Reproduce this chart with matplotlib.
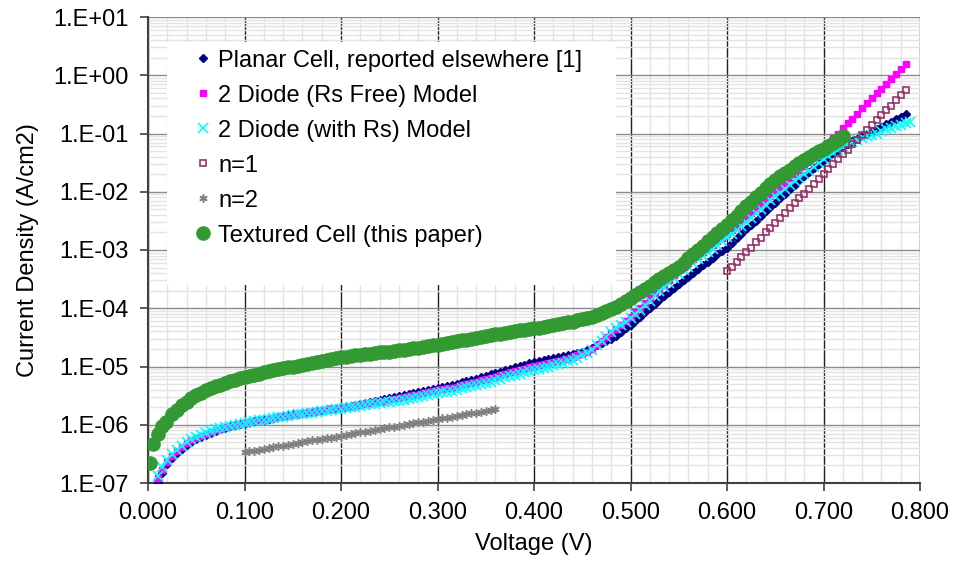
import numpy as np
import matplotlib.pyplot as plt
from matplotlib.patches import Rectangle
from matplotlib.ticker import FixedLocator, FuncFormatter, LogLocator, MultipleLocator

plt.rcParams['font.family'] = ['Liberation Sans', 'DejaVu Sans']

dv = 0.005

v0_planar = 0.010
j_planar = [1.05e-7, 1.5e-7, 2.1e-7, 2.7e-7, 3.3e-7, 3.9e-7, 4.5e-7, 5.0e-7, 5.6e-7, 6.2e-7,
            6.8e-7, 7.3e-7, 7.9e-7, 8.4e-7, 8.9e-7, 9.4e-7, 9.8e-7, 1.03e-6, 1.07e-6, 1.11e-6,
            1.15e-6, 1.19e-6, 1.23e-6, 1.27e-6, 1.31e-6, 1.36e-6, 1.4e-6, 1.45e-6, 1.5e-6, 1.55e-6,
            1.6e-6, 1.63e-6, 1.67e-6, 1.73e-6, 1.8e-6, 1.83e-6, 1.87e-6, 1.93e-6, 2.0e-6, 2.05e-6,
            2.1e-6, 2.2e-6, 2.3e-6, 2.37e-6, 2.45e-6, 2.57e-6, 2.7e-6, 2.8e-6, 2.9e-6, 3.0e-6,
            3.1e-6, 3.25e-6, 3.4e-6, 3.5e-6, 3.6e-6, 3.8e-6, 4.0e-6, 4.15e-6, 4.3e-6, 4.5e-6,
            4.7e-6, 4.9e-6, 5.1e-6, 5.35e-6, 5.6e-6, 5.9e-6, 6.2e-6, 6.5e-6, 6.9e-6, 7.3e-6,
            7.8e-6, 8.2e-6, 8.7e-6, 9.2e-6, 9.8e-6, 1.02e-5, 1.07e-5, 1.13e-5, 1.2e-5, 1.25e-5,
            1.3e-5, 1.35e-5, 1.4e-5, 1.45e-5, 1.5e-5, 1.58e-5, 1.66e-5, 1.73e-5, 1.8e-5, 1.95e-5,
            2.1e-5, 2.3e-5, 2.5e-5, 2.7e-5, 3.0e-5, 3.4e-5, 3.9e-5, 4.5e-5, 5.2e-5, 6.1e-5,
            7.2e-5, 8.5e-5, 1.0e-4, 1.2e-4, 1.4e-4, 1.63e-4, 1.9e-4, 2.2e-4, 2.6e-4, 3.0e-4,
            3.5e-4, 4.1e-4, 4.8e-4, 5.5e-4, 6.3e-4, 7.3e-4, 8.5e-4, 9.7e-4, 1.1e-3, 1.3e-3,
            1.6e-3, 1.9e-3, 2.3e-3, 2.7e-3, 3.2e-3, 3.9e-3, 4.7e-3, 5.5e-3, 6.5e-3, 7.8e-3,
            9.3e-3, 1.1e-2, 1.3e-2, 1.6e-2, 1.9e-2, 2.2e-2, 2.6e-2, 3.0e-2, 3.5e-2, 4.0e-2,
            4.6e-2, 5.2e-2, 5.9e-2, 6.6e-2, 7.4e-2, 8.2e-2, 9.1e-2, 0.10, 0.11, 0.12,
            0.13, 0.145, 0.16, 0.175, 0.19, 0.22]

v0_rs_free = 0.010
j_rs_free = [1.2e-7, 1.7e-7, 2.3e-7, 2.9e-7, 3.5e-7, 4.1e-7, 4.8e-7, 5.4e-7, 6.0e-7, 6.5e-7,
             7.0e-7, 7.6e-7, 8.1e-7, 8.6e-7, 9.1e-7, 9.6e-7, 1.0e-6, 1.04e-6, 1.07e-6, 1.11e-6,
             1.15e-6, 1.19e-6, 1.23e-6, 1.27e-6, 1.3e-6, 1.35e-6, 1.4e-6, 1.43e-6, 1.47e-6, 1.52e-6,
             1.57e-6, 1.6e-6, 1.63e-6, 1.69e-6, 1.75e-6, 1.79e-6, 1.83e-6, 1.89e-6, 1.95e-6, 2.0e-6,
             2.05e-6, 2.12e-6, 2.2e-6, 2.27e-6, 2.35e-6, 2.42e-6, 2.5e-6, 2.6e-6, 2.7e-6, 2.77e-6,
             2.85e-6, 2.97e-6, 3.1e-6, 3.2e-6, 3.3e-6, 3.45e-6, 3.6e-6, 3.75e-6, 3.9e-6, 4.05e-6,
             4.2e-6, 4.35e-6, 4.5e-6, 4.75e-6, 5.0e-6, 5.25e-6, 5.5e-6, 5.75e-6, 6.0e-6, 6.35e-6,
             6.7e-6, 7.1e-6, 7.5e-6, 7.9e-6, 8.3e-6, 8.7e-6, 9.2e-6, 9.7e-6, 1.02e-5, 1.06e-5,
             1.1e-5, 1.15e-5, 1.2e-5, 1.25e-5, 1.3e-5, 1.37e-5, 1.45e-5, 1.55e-5, 1.65e-5, 1.8e-5,
             2.0e-5, 2.3e-5, 2.7e-5, 3.2e-5, 3.8e-5, 4.4e-5, 5.1e-5, 6.0e-5, 7.1e-5, 8.5e-5,
             1.02e-4, 1.23e-4, 1.5e-4, 1.8e-4, 2.1e-4, 2.55e-4, 3.1e-4, 3.7e-4, 4.5e-4, 5.2e-4,
             6.0e-4, 6.9e-4, 7.9e-4, 9.2e-4, 1.07e-3, 1.22e-3, 1.4e-3, 1.63e-3, 1.9e-3, 2.2e-3,
             2.6e-3, 3.1e-3, 3.7e-3, 4.3e-3, 5.1e-3, 6.1e-3, 7.2e-3, 8.5e-3, 1.0e-2, 1.2e-2,
             1.4e-2, 1.7e-2, 2.0e-2, 2.4e-2, 2.8e-2, 3.3e-2, 4.0e-2, 4.7e-2, 5.6e-2, 6.8e-2,
             8.3e-2, 0.10, 0.123, 0.15, 0.18, 0.22, 0.27, 0.33, 0.40, 0.49,
             0.59, 0.72, 0.87, 1.06, 1.29, 1.55]

v0_with_rs = 0.010
j_with_rs = [1.3e-7, 1.9e-7, 2.5e-7, 3.1e-7, 3.7e-7, 4.4e-7, 5.0e-7, 5.6e-7, 6.2e-7, 6.7e-7,
             7.2e-7, 7.8e-7, 8.3e-7, 8.8e-7, 9.3e-7, 9.7e-7, 1.0e-6, 1.04e-6, 1.07e-6, 1.11e-6,
             1.15e-6, 1.19e-6, 1.23e-6, 1.27e-6, 1.3e-6, 1.34e-6, 1.38e-6, 1.42e-6, 1.45e-6, 1.5e-6,
             1.55e-6, 1.58e-6, 1.6e-6, 1.65e-6, 1.7e-6, 1.75e-6, 1.8e-6, 1.85e-6, 1.9e-6, 1.95e-6,
             2.0e-6, 2.05e-6, 2.1e-6, 2.17e-6, 2.24e-6, 2.3e-6, 2.35e-6, 2.42e-6, 2.5e-6, 2.55e-6,
             2.6e-6, 2.7e-6, 2.8e-6, 2.9e-6, 3.0e-6, 3.1e-6, 3.2e-6, 3.35e-6, 3.5e-6, 3.6e-6,
             3.7e-6, 3.85e-6, 4.0e-6, 4.2e-6, 4.4e-6, 4.6e-6, 4.8e-6, 5.0e-6, 5.2e-6, 5.5e-6,
             5.8e-6, 6.1e-6, 6.5e-6, 6.8e-6, 7.1e-6, 7.5e-6, 7.9e-6, 8.3e-6, 8.7e-6, 9.1e-6,
             9.5e-6, 1.0e-5, 1.05e-5, 1.11e-5, 1.17e-5, 1.23e-5, 1.3e-5, 1.42e-5, 1.55e-5, 1.73e-5,
             1.95e-5, 2.3e-5, 2.7e-5, 3.25e-5, 3.9e-5, 4.5e-5, 5.1e-5, 5.9e-5, 6.8e-5, 8.0e-5,
             9.5e-5, 1.13e-4, 1.35e-4, 1.62e-4, 1.95e-4, 2.3e-4, 2.75e-4, 3.3e-4, 3.9e-4, 4.5e-4,
             5.2e-4, 6.0e-4, 6.9e-4, 7.9e-4, 9.1e-4, 1.05e-3, 1.2e-3, 1.4e-3, 1.65e-3, 1.9e-3,
             2.2e-3, 2.6e-3, 3.0e-3, 3.6e-3, 4.3e-3, 5.1e-3, 6.0e-3, 7.1e-3, 8.3e-3, 9.6e-3,
             1.12e-2, 1.3e-2, 1.5e-2, 1.75e-2, 2.0e-2, 2.3e-2, 2.7e-2, 3.1e-2, 3.6e-2, 4.1e-2,
             4.7e-2, 5.3e-2, 5.9e-2, 6.5e-2, 7.1e-2, 7.7e-2, 8.3e-2, 8.9e-2, 9.5e-2, 0.10,
             0.11, 0.118, 0.126, 0.133, 0.14, 0.15, 0.16]

v0_n1 = 0.600
j_n1 = [4.3e-4, 5.2e-4, 6.2e-4, 7.5e-4, 9.1e-4, 1.1e-3, 1.35e-3, 1.63e-3, 2.0e-3, 2.4e-3,
        2.9e-3, 3.5e-3, 4.3e-3, 5.2e-3, 6.3e-3, 7.7e-3, 9.3e-3, 1.13e-2, 1.38e-2, 1.67e-2,
        2.0e-2, 2.45e-2, 3.0e-2, 3.6e-2, 4.4e-2, 5.3e-2, 6.5e-2, 7.8e-2, 9.5e-2, 0.115,
        0.14, 0.17, 0.21, 0.25, 0.30, 0.37, 0.45, 0.55]

v0_n2 = 0.100
j_n2 = [3.4e-7, 3.5e-7, 3.6e-7, 3.75e-7, 3.9e-7, 4.0e-7, 4.1e-7, 4.25e-7, 4.4e-7, 4.55e-7,
        4.7e-7, 4.85e-7, 5.0e-7, 5.2e-7, 5.4e-7, 5.55e-7, 5.7e-7, 5.85e-7, 6.0e-7, 6.25e-7,
        6.5e-7, 6.7e-7, 6.9e-7, 7.15e-7, 7.4e-7, 7.65e-7, 7.9e-7, 8.15e-7, 8.4e-7, 8.7e-7,
        9.0e-7, 9.3e-7, 9.6e-7, 9.9e-7, 1.02e-6, 1.06e-6, 1.1e-6, 1.13e-6, 1.17e-6, 1.21e-6,
        1.25e-6, 1.29e-6, 1.33e-6, 1.37e-6, 1.42e-6, 1.47e-6, 1.52e-6, 1.57e-6, 1.62e-6, 1.67e-6,
        1.73e-6, 1.79e-6, 1.85e-6]

# textured cell: a few sparse points at the very start, then the 5 mV grid
v_textured_start = [0.002, 0.005, 0.010, 0.014, 0.019]
j_textured_start = [2.2e-7, 4.7e-7, 6.9e-7, 9.5e-7, 1.12e-6]
v0_textured = 0.025
j_textured = [1.5e-6, 1.8e-6, 2.15e-6, 2.5e-6, 2.85e-6, 3.2e-6, 3.55e-6, 3.9e-6, 4.25e-6, 4.6e-6,
              4.9e-6, 5.2e-6, 5.55e-6, 5.9e-6, 6.25e-6, 6.6e-6, 6.9e-6, 7.2e-6, 7.55e-6, 7.9e-6,
              8.3e-6, 8.7e-6, 9.0e-6, 9.3e-6, 9.65e-6, 1.0e-5, 1.03e-5, 1.07e-5, 1.11e-5, 1.15e-5,
              1.19e-5, 1.23e-5, 1.29e-5, 1.35e-5, 1.4e-5, 1.45e-5, 1.48e-5, 1.5e-5, 1.55e-5, 1.6e-5,
              1.63e-5, 1.66e-5, 1.7e-5, 1.74e-5, 1.77e-5, 1.8e-5, 1.85e-5, 1.9e-5, 1.95e-5, 2.0e-5,
              2.05e-5, 2.1e-5, 2.17e-5, 2.24e-5, 2.3e-5, 2.35e-5, 2.42e-5, 2.5e-5, 2.6e-5, 2.7e-5,
              2.8e-5, 2.9e-5, 3.0e-5, 3.1e-5, 3.2e-5, 3.3e-5, 3.42e-5, 3.55e-5, 3.67e-5, 3.8e-5,
              3.95e-5, 4.1e-5, 4.2e-5, 4.3e-5, 4.4e-5, 4.5e-5, 4.65e-5, 4.8e-5, 4.95e-5, 5.1e-5,
              5.3e-5, 5.5e-5, 5.7e-5, 5.9e-5, 6.2e-5, 6.5e-5, 6.8e-5, 7.2e-5, 7.7e-5, 8.3e-5,
              9.0e-5, 9.8e-5, 1.07e-4, 1.17e-4, 1.32e-4, 1.48e-4, 1.68e-4, 1.9e-4, 2.15e-4, 2.45e-4,
              2.8e-4, 3.2e-4, 3.6e-4, 4.1e-4, 4.6e-4, 5.2e-4, 6.1e-4, 7.2e-4, 8.5e-4, 1.0e-3,
              1.18e-3, 1.4e-3, 1.65e-3, 1.95e-3, 2.3e-3, 2.7e-3, 3.25e-3, 3.9e-3, 4.7e-3, 5.6e-3,
              6.7e-3, 8.1e-3, 9.7e-3, 1.17e-2, 1.37e-2, 1.6e-2, 1.83e-2, 2.1e-2, 2.4e-2, 2.75e-2,
              3.1e-2, 3.5e-2, 4.0e-2, 4.5e-2, 5.0e-2, 5.5e-2, 6.1e-2, 6.8e-2, 7.8e-2, 9.0e-2]


def grid_v(v0, j):
    return v0 + dv * np.arange(len(j))


fs = 17

fig = plt.figure(figsize=(9.55, 5.76), dpi=100)
ax = fig.add_axes([148/955, 93/576, 772/955, 466/576])

ax.plot(grid_v(v0_planar, j_planar), j_planar, ls='none', marker='D', ms=4.5,
        color='#000080', label='Planar Cell, reported elsewhere [1]', zorder=3)
ax.plot(grid_v(v0_rs_free, j_rs_free), j_rs_free, ls='none', marker='s', ms=4.2,
        color='#FF00FF', label='2 Diode (Rs Free) Model', zorder=3)
ax.plot(grid_v(v0_with_rs, j_with_rs), j_with_rs, ls='none', marker='x', ms=6.5, mew=1.2,
        color='#00FFFF', label='2 Diode (with Rs) Model', zorder=3)
ax.plot(grid_v(v0_n1, j_n1), j_n1, ls='none', marker='s', ms=4.5, mfc='none', mew=1.2,
        color='#993366', label='n=1', zorder=3)
ax.plot(grid_v(v0_n2, j_n2), j_n2, ls='none', marker=(6, 2, 0), ms=6, mew=1.1,
        color='#808080', label='n=2', zorder=3)
v_tex = np.concatenate([v_textured_start, grid_v(v0_textured, j_textured)])
j_tex = j_textured_start + j_textured
ax.plot(v_tex, j_tex, ls='none', marker='o', ms=9.5, color='#339933',
        label='Textured Cell (this paper)', zorder=3)

ax.set_yscale('log')
ax.set_xlim(0, 0.8)
ax.set_ylim(1e-7, 10)

ax.xaxis.set_major_locator(MultipleLocator(0.1))
ax.xaxis.set_minor_locator(MultipleLocator(0.02))
ax.xaxis.set_major_formatter(FuncFormatter(lambda v, p: f'{v:.3f}'))
ax.yaxis.set_major_locator(FixedLocator(10.0 ** np.arange(-7, 2)))
ax.yaxis.set_minor_locator(LogLocator(base=10, subs=np.arange(2, 10), numticks=20))
ax.yaxis.set_major_formatter(FuncFormatter(lambda v, p: f'1.E{int(round(np.log10(v))):+03d}'))
ax.yaxis.set_minor_formatter(FuncFormatter(lambda v, p: ''))

ax.set_axisbelow(True)
ax.grid(which='minor', color='#e3e3e3', lw=1)
ax.grid(which='major', axis='y', color='#8c8c8c', lw=1)
ax.grid(which='major', axis='x', color='#202020', lw=1)

for s in ['top', 'right']:
    ax.spines[s].set_visible(False)
for s in ['left', 'bottom']:
    ax.spines[s].set_color('#404040')
    ax.spines[s].set_linewidth(1.5)
ax.tick_params(which='major', direction='out', length=6, width=1.2, color='#404040',
               labelsize=fs, pad=8)
ax.tick_params(which='minor', length=0)

ax.set_xlabel('Voltage (V)', fontsize=fs, labelpad=6)
ax.set_ylabel('Current Density (A/cm2)', fontsize=fs, labelpad=10)

# white legend panel hides the grid behind it
ax.add_patch(Rectangle((0.0246, 0.425), 0.581, 0.521, transform=ax.transAxes,
                       facecolor='white', edgecolor='none', zorder=2.5))
ax.legend(loc='upper left', bbox_to_anchor=(0.0622, 0.930), borderaxespad=0,
          borderpad=0, frameon=False, fontsize=fs, handlelength=0.6,
          handletextpad=0.35, labelspacing=0.55, numpoints=1)

fig.savefig('out.png', dpi=100)
